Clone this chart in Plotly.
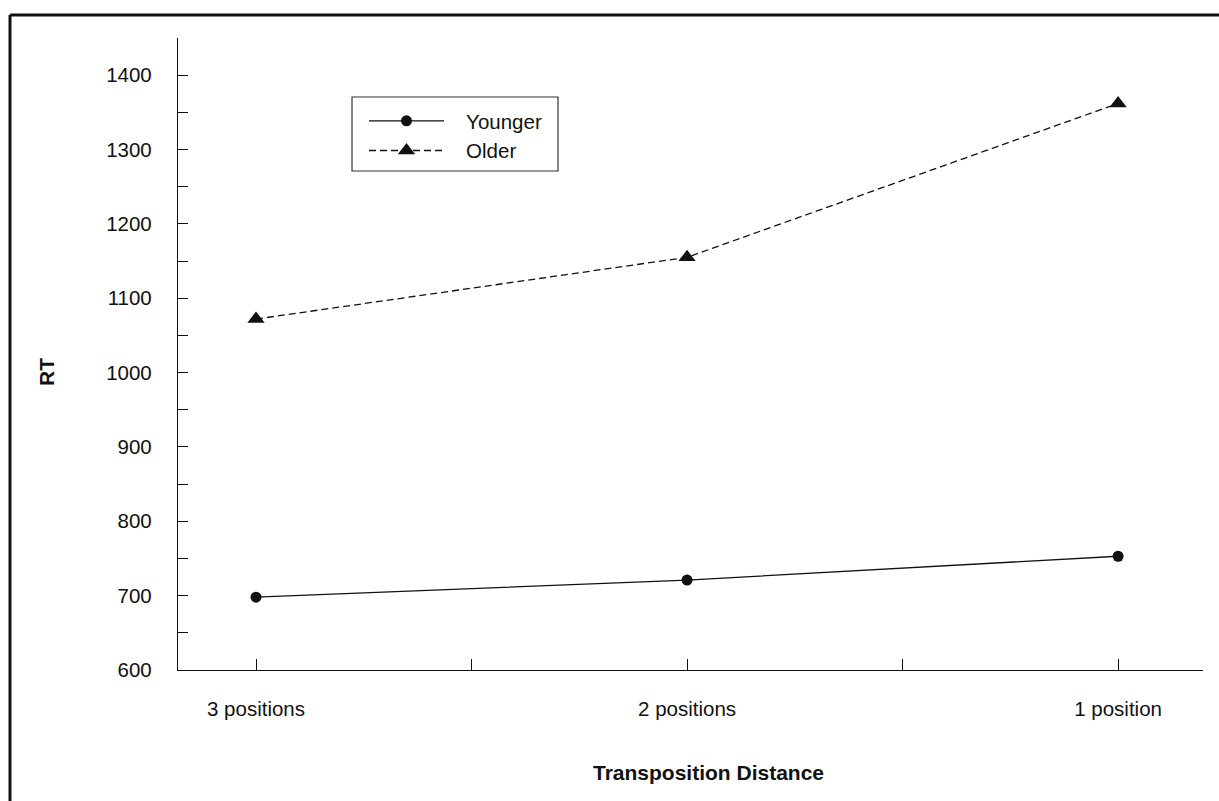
import plotly.graph_objects as go

# Transposition distance conditions (x categories)
categories = ["3 positions", "2 positions", "1 position"]

# Mean response time per group
younger_rt = [698, 721, 753]
older_rt = [1072, 1155, 1362]

FONT = "Liberation Sans, Arial, Helvetica, sans-serif"
INK = "#111111"

# plot area in pixels (used to place paper-referenced decorations)
W, H = 1219, 801
L, R, T, B = 178, 16, 38, 131
PW, PH = W - L - R, H - T - B


def px(x):
    return (x - L) / PW


def py(y):
    return (H - B - y) / PH


xpos = list(range(len(categories)))
pad = "\u00a0" * 3

fig = go.Figure()

fig.add_trace(go.Scatter(
    x=xpos, y=younger_rt, name=pad + "Younger", mode="lines+markers",
    line=dict(color=INK, width=1.3),
    marker=dict(symbol="circle", size=11, color=INK),
))
fig.add_trace(go.Scatter(
    x=xpos, y=older_rt, name=pad + "Older", mode="lines+markers",
    line=dict(color=INK, width=1.3, dash="7px,4px"),
    marker=dict(symbol="triangle-up", size=15, color=INK),
))

fig.update_layout(
    width=W, height=H,
    margin=dict(l=L, r=R, t=T, b=B),
    paper_bgcolor="white", plot_bgcolor="white",
    font=dict(family=FONT, size=20, color=INK),
    showlegend=True,
    legend=dict(
        x=px(364), y=py(101), xanchor="left", yanchor="top",
        bgcolor="rgba(0,0,0,0)", borderwidth=0,
        font=dict(family=FONT, size=20.5, color=INK),
        itemwidth=75, tracegroupgap=0,
    ),
    xaxis=dict(
        range=[-0.181, 2.197],
        tickmode="array", tickvals=xpos, ticktext=categories,
        ticks="inside", ticklen=11, tickwidth=1.3, tickcolor=INK,
        minor=dict(ticks="inside", ticklen=11, tickwidth=1.3, tickcolor=INK, dtick=0.5, tick0=0),
        showline=True, linecolor=INK, linewidth=1.3,
        showgrid=False, zeroline=False,
        ticklabelstandoff=20,
        tickfont=dict(family=FONT, size=20.5, color=INK),
    ),
    yaxis=dict(
        range=[600, 1450],
        tickmode="linear", tick0=600, dtick=100,
        ticks="inside", ticklen=10, tickwidth=1.3, tickcolor=INK,
        minor=dict(ticks="inside", ticklen=10, tickwidth=1.3, tickcolor=INK, dtick=50, tick0=600),
        showline=True, linecolor=INK, linewidth=1.3,
        showgrid=False, zeroline=False,
        ticklabelstandoff=21,
        tickfont=dict(family=FONT, size=20.5, color=INK),
    ),
    annotations=[
        dict(text="<b>RT</b>", xref="paper", yref="paper",
             x=px(47), y=py(372),
             xanchor="center", yanchor="middle", textangle=-90,
             showarrow=False, font=dict(family=FONT, size=21, color=INK)),
        dict(text="<b>Transposition Distance</b>", xref="paper", yref="paper",
             x=px(708), y=py(772),
             xanchor="center", yanchor="middle",
             showarrow=False, font=dict(family=FONT, size=21, color=INK)),
    ],
    shapes=[
        # legend box
        dict(type="rect", xref="paper", yref="paper",
             x0=px(352), x1=px(558), y0=py(97), y1=py(171),
             line=dict(color="#333333", width=1.2), fillcolor="white", layer="below"),
        # outer frame: left and top edges
        dict(type="line", xref="paper", yref="paper",
             x0=px(10), x1=px(10), y0=py(15), y1=py(805),
             line=dict(color=INK, width=3)),
        dict(type="line", xref="paper", yref="paper",
             x0=px(10), x1=px(1222), y0=py(15), y1=py(15),
             line=dict(color=INK, width=3)),
    ],
)

fig.write_html("out.html")
